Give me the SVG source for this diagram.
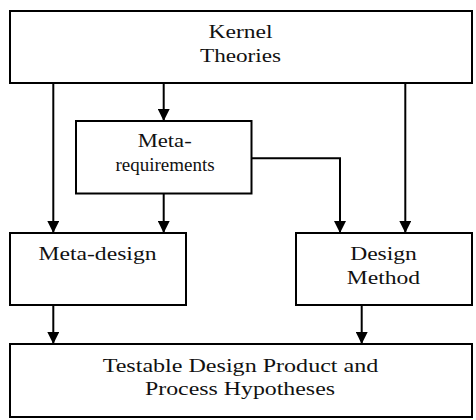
<svg xmlns="http://www.w3.org/2000/svg" width="476" height="420" viewBox="0 0 476 420">
<style>
.box{fill:#fff;stroke:#000;stroke-width:2}
.lbl{font-family:'Liberation Serif','Times New Roman',Times,serif;font-size:19px;fill:#111;text-anchor:middle}
.con{fill:none;stroke:#000;stroke-width:2}
</style>
<defs>
<marker id="ah" viewBox="0 0 12 12" refX="12" refY="6" markerWidth="12" markerHeight="12" markerUnits="userSpaceOnUse" orient="auto">
<path d="M0,0 L12,6 L0,12 z" fill="#000"/>
</marker>
</defs>
<rect width="476" height="420" fill="#fff"/>
<g id="connectors">
<path class="con" d="M53.3,83 V233" marker-end="url(#ah)"/>
<path class="con" d="M163.7,83 V121" marker-end="url(#ah)"/>
<path class="con" d="M405.3,83 V233" marker-end="url(#ah)"/>
<path class="con" d="M163.7,193.5 V233" marker-end="url(#ah)"/>
<path class="con" d="M251.5,158.3 H340 V233" marker-end="url(#ah)"/>
<path class="con" d="M53.3,305 V344" marker-end="url(#ah)"/>
<path class="con" d="M361.7,305 V344" marker-end="url(#ah)"/>
</g>
<g id="kernel">
<rect class="box" x="10" y="11" width="462" height="72"/>
<text class="lbl" font-family="Liberation Serif" x="240.5" y="38.3" textLength="64" lengthAdjust="spacingAndGlyphs">Kernel</text>
<text class="lbl" font-family="Liberation Serif" x="240.5" y="62" textLength="81" lengthAdjust="spacingAndGlyphs">Theories</text>
</g>
<g id="metareq">
<rect class="box" x="76" y="121" width="175.5" height="72.5"/>
<text class="lbl" x="164.7" y="146.7" textLength="54" lengthAdjust="spacingAndGlyphs">Meta-</text>
<text class="lbl" x="165" y="170.7">requirements</text>
</g>
<g id="metadesign">
<rect class="box" x="10" y="233" width="176" height="72"/>
<text class="lbl" x="97.5" y="260" textLength="118" lengthAdjust="spacingAndGlyphs">Meta-design</text>
</g>
<g id="designmethod">
<rect class="box" x="296" y="233" width="176" height="72"/>
<text class="lbl" x="383.5" y="260" textLength="66.7" lengthAdjust="spacingAndGlyphs">Design</text>
<text class="lbl" x="383.5" y="284" textLength="73.3" lengthAdjust="spacingAndGlyphs">Method</text>
</g>
<g id="testable">
<rect class="box" x="10" y="344" width="462" height="73"/>
<text class="lbl" x="240.5" y="371.7" textLength="275.7" lengthAdjust="spacingAndGlyphs">Testable Design Product and</text>
<text class="lbl" x="240" y="395" textLength="190" lengthAdjust="spacingAndGlyphs">Process Hypotheses</text>
</g>
</svg>
